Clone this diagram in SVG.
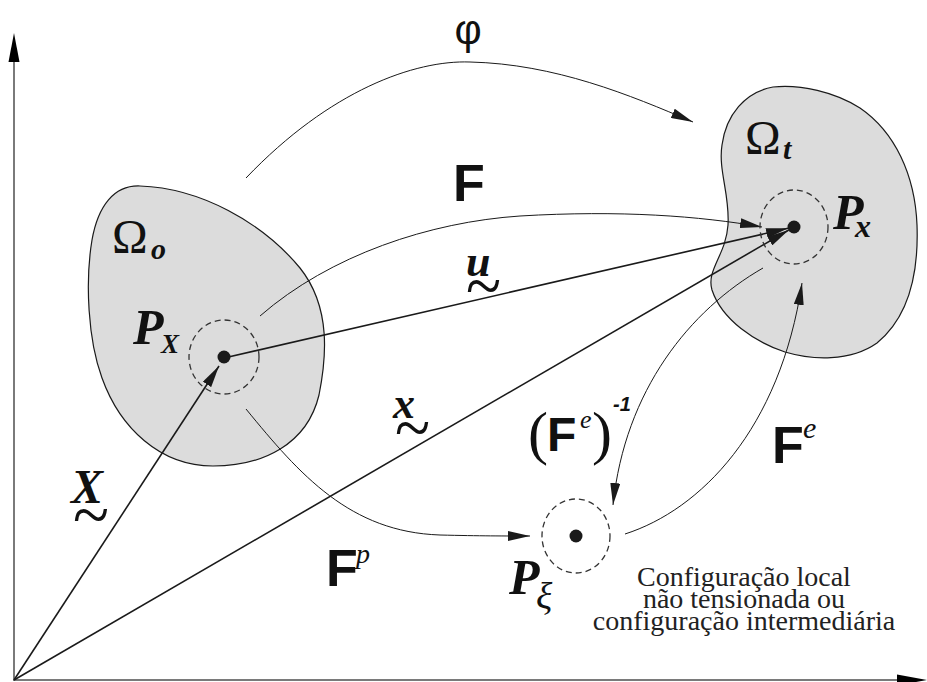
<svg xmlns="http://www.w3.org/2000/svg" width="927" height="682" viewBox="0 0 927 682">
<defs>
<marker id="ah" viewBox="0 0 22 10" refX="22" refY="5" markerWidth="22" markerHeight="10" markerUnits="userSpaceOnUse" orient="auto">
<path d="M0,0 L22,5 L0,10 Z" fill="#1a1a1a"/>
</marker>
<style>
.blob{fill:#dcdcdc;stroke:#1a1a1a;stroke-width:1.2}
.ring{fill:none;stroke:#333;stroke-width:1.3;stroke-dasharray:6 4}
.dot{fill:#1a1a1a}
.thin{fill:none;stroke:#1a1a1a;stroke-width:1}
.vec{fill:none;stroke:#1a1a1a;stroke-width:1.6}
.axis{fill:none;stroke:#7a7a7a;stroke-width:2}
.serif{font-family:"Liberation Serif","DejaVu Serif",serif;fill:#111}
.bi{font-family:"Liberation Serif","DejaVu Serif",serif;font-weight:bold;font-style:italic;fill:#111}
.it{font-family:"Liberation Serif","DejaVu Serif",serif;font-style:italic;fill:#111}
.sansb{font-family:"Liberation Sans",Arial,sans-serif;font-weight:bold;fill:#111}
.tl{font-family:"Liberation Serif","DejaVu Serif",serif;font-size:36px;fill:#111}
.note{font-family:"Liberation Serif","DejaVu Serif",serif;font-size:28px;fill:#222;text-anchor:middle}
</style>
</defs>
<rect width="927" height="682" fill="#fff"/>

<g id="axes">
<line class="axis" x1="14" y1="681" x2="14" y2="45"/>
<path d="M8.5,62 L14,33 L19.5,62 Z" fill="#000"/>
<line class="axis" x1="13" y1="680" x2="910" y2="680"/>
<path d="M897,674.5 L927,680 L897,685.5 Z" fill="#000"/>
</g>

<g id="omega-o">
<path class="blob" d="M140,186 C200,188 262,222 300,268 C332,308 326,360 319,395 C307,445 262,466 213,466 C160,466 120,428 102,378 C88,340 85,282 92,240 C98,206 114,185 140,186 Z"/>
<text class="serif" x="112" y="253" font-size="48">Ω</text>
<text class="bi" x="151" y="259" font-size="30">o</text>
</g>

<g id="omega-t">
<path class="blob" d="M773,87 C800,84 835,92 860,108 C895,132 915,175 917,225 C919,280 905,320 877,343 C850,362 812,360 785,352 C755,342 722,320 712,290 C706,270 726,255 728,225 C730,195 718,170 722,145 C726,115 745,92 773,87 Z"/>
<text class="serif" x="745" y="154" font-size="48">Ω</text>
<text class="bi" x="783" y="159" font-size="30">t</text>
</g>

<g id="connectors">
<path class="thin" d="M246,178 C330,90 415,60 470,62 C555,64 630,95 693,122" marker-end="url(#ah)"/>
<path class="thin" d="M260,316 C330,255 430,222 520,216 C620,210 700,216 762,227" marker-end="url(#ah)"/>
<line class="vec" x1="224" y1="358" x2="788" y2="228.3" marker-end="url(#ah)"/>
<line class="vec" x1="14" y1="680" x2="788.8" y2="230" marker-end="url(#ah)"/>
<line class="vec" x1="14" y1="680" x2="219" y2="366" marker-end="url(#ah)"/>
<path class="thin" d="M246,409 C300,475 350,532 440,535 C480,536 505,536 530,536" marker-end="url(#ah)"/>
<path class="thin" d="M763,268 C690,310 625,390 613,505" marker-end="url(#ah)"/>
<path class="thin" d="M625,534 C700,510 780,430 802,283" marker-end="url(#ah)"/>
</g>

<g id="PX">
<ellipse class="ring" cx="224" cy="357" rx="35" ry="37"/>
<circle class="dot" cx="224" cy="357" r="6.5"/>
<text class="bi" x="133" y="344" font-size="50">P</text>
<text class="bi" x="161" y="353" font-size="27">X</text>
</g>

<g id="Px">
<ellipse class="ring" cx="794" cy="227" rx="34" ry="37"/>
<circle class="dot" cx="794" cy="227" r="6.5"/>
<text class="bi" x="833" y="229" font-size="50">P</text>
<text class="bi" x="855" y="237" font-size="32">x</text>
</g>

<g id="Pxi">
<ellipse class="ring" cx="576" cy="536" rx="34" ry="37"/>
<circle class="dot" cx="576" cy="536" r="6.5"/>
<text class="bi" x="509" y="594" font-size="50">P</text>
<text class="it" x="536" y="609" font-size="38">ξ</text>
</g>

<g id="labels">
<text x="468" y="44" font-family="Liberation Sans, Arial, sans-serif" font-size="42" text-anchor="middle" fill="#111">φ</text>
<text class="sansb" x="453" y="201" font-size="52">F</text>
<text class="bi" x="466" y="276" font-size="44">u</text>
<text class="tl" transform="translate(466,310) scale(1.8,2.0)">~</text>
<text class="bi" x="393" y="418" font-size="44">x</text>
<text class="tl" transform="translate(395,452) scale(1.8,2.0)">~</text>
<text class="bi" x="71" y="503" font-size="48">X</text>
<text class="tl" transform="translate(73,539) scale(1.85,2.0)">~</text>
<text class="sansb" x="326" y="586" font-size="52">F</text>
<text class="it" x="356" y="563" font-size="28">p</text>
<text class="sansb" x="772" y="463" font-size="52">F</text>
<text class="it" x="803" y="438" font-size="30">e</text>
<text class="serif" x="528" y="453" font-size="60">(</text>
<text class="sansb" x="547" y="451" font-size="48">F</text>
<text class="it" x="580" y="428" font-size="26">e</text>
<text class="serif" x="592" y="453" font-size="60">)</text>
<text x="613" y="411" font-family="Liberation Sans, Arial, sans-serif" font-weight="bold" font-style="italic" font-size="20" fill="#111">-1</text>
<text class="note" x="744" y="586">Configuração local</text>
<text class="note" x="744" y="608">não tensionada ou</text>
<text class="note" x="744" y="630">configuração intermediária</text>
</g>
</svg>
